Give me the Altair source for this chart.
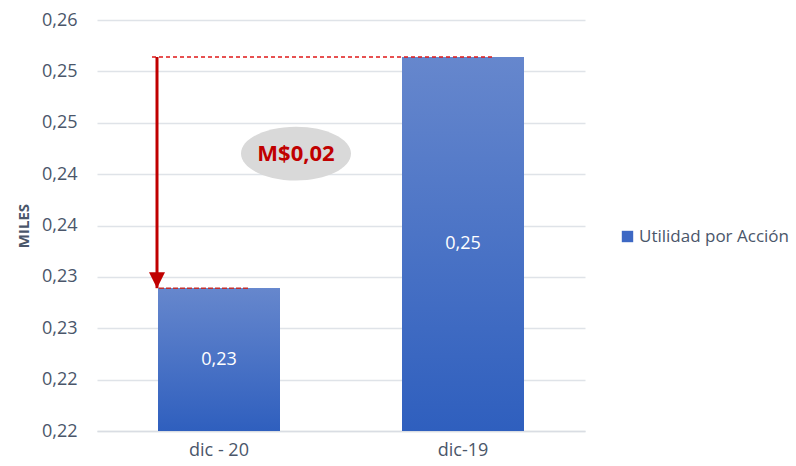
import altair as alt
import pandas as pd

# Earnings per share, December 2020 vs December 2019
periods = ["dic - 20", "dic-19"]
eps_values = [0.2314, 0.2539]
series_name = "Utilidad por Acción"
difference_label = "M$0,02"

# Y axis ticks and the labels shown for them
y_ticks = [0.2175, 0.2225, 0.2275, 0.2325, 0.2375, 0.2425, 0.2475, 0.2525, 0.2575]
y_tick_labels = ["0,22", "0,22", "0,23", "0,23", "0,24", "0,24", "0,25", "0,25", "0,26"]

y_min, y_max = y_ticks[0], y_ticks[-1]
FONT = "Open Sans"
TEXT_GREY = "#4a566a"
RED = "#c00000"

df = pd.DataFrame({"periodo": periods, "valor": eps_values, "serie": series_name})
df["base"] = y_min
df["medio"] = (df["valor"] + y_min) / 2
df["etiqueta"] = df["valor"].map(lambda v: f"{v:.2f}".replace(".", ","))

label_expr = (
    "[" + ",".join(f"'{t}'" for t in y_tick_labels) + "]"
    + f"[round((datum.value - {y_min}) / 0.005)]"
)

x_enc = alt.X(
    "periodo:N",
    sort=periods,
    scale=alt.Scale(paddingInner=0.5, paddingOuter=0.25),
    axis=alt.Axis(
        title=None, labelAngle=0, labelFont=FONT, labelFontSize=18,
        labelColor=TEXT_GREY, labelPadding=10, ticks=False, grid=False,
        domainColor="#d9dde3", domainWidth=1.5,
    ),
)
y_scale = alt.Scale(domain=[y_min, y_max], zero=False, nice=False)
y_enc = alt.Y(
    "valor:Q",
    scale=y_scale,
    axis=alt.Axis(
        title="MILES", titleFont=FONT, titleFontSize=15, titleFontWeight="bold",
        titleColor=TEXT_GREY, titlePadding=10,
        values=y_ticks, labelExpr=label_expr, labelFont=FONT, labelFontSize=18,
        labelColor=TEXT_GREY, labelPadding=20, ticks=False, domain=False,
        gridColor="#dfe3e8", gridWidth=1.5,
    ),
)

base = alt.Chart(df)

# Solid layer feeds the legend; gradient layer is drawn over it
legend_bars = base.mark_bar().encode(
    x=x_enc,
    y=y_enc,
    y2="base:Q",
    color=alt.Color(
        "serie:N",
        scale=alt.Scale(range=["#3d68c4"]),
        legend=alt.Legend(
            title=None, orient="none", legendX=522, legendY=208,
            labelFont=FONT, labelFontSize=17, labelColor=TEXT_GREY,
            symbolType="square", symbolSize=130, symbolStrokeWidth=0,
            labelOffset=3, padding=0,
        ),
    ),
)

gradient_bars = base.mark_bar(
    color=alt.Gradient(
        gradient="linear",
        stops=[
            alt.GradientStop(color="#6687cd", offset=0),
            alt.GradientStop(color="#2f5fbe", offset=1),
        ],
        x1=0, x2=0, y1=0, y2=1,
    )
).encode(x=x_enc, y="valor:Q", y2="base:Q")

bar_labels = base.mark_text(
    font=FONT, fontSize=18, color="white", baseline="middle"
).encode(x=x_enc, y=alt.Y("medio:Q"), text="etiqueta:N")

top_value = eps_values[1]
low_value = eps_values[0]

# Red dashed guide at the 2019 level
top_guide = alt.Chart(pd.DataFrame({"v": [top_value]})).mark_rule(
    color="#e01818", strokeDash=[4, 3], strokeWidth=1.4
).encode(y="v:Q", x=alt.value(55), x2=alt.value(396))

# Dashed mark on top of the 2020 bar
low_guide = alt.Chart(pd.DataFrame({"v": [low_value]})).mark_rule(
    color="#c03030", strokeDash=[5, 2], strokeWidth=1.5
).encode(y="v:Q", x=alt.value(62), x2=alt.value(153))

# Downward arrow between both levels
arrow_shaft = alt.Chart(pd.DataFrame({"a": [top_value], "b": [low_value]})).mark_rule(
    color=RED, strokeWidth=3
).encode(y="a:Q", y2="b:Q", x=alt.value(60))

arrow_head = alt.Chart(pd.DataFrame({"v": [low_value]})).mark_point(
    shape="M-1,-1L1,-1L0,1Z", size=256, filled=True, color=RED, opacity=1,
    yOffset=-8,
).encode(y="v:Q", x=alt.value(60))

# Grey ellipse holding the difference
bubble = alt.Chart(pd.DataFrame({"v": [0.2445]})).mark_point(
    shape="M-1,0A1,0.49,0,1,1,1,0A1,0.49,0,1,1,-1,0Z", size=12100,
    filled=True, color="#d9d9d9", opacity=1,
).encode(y="v:Q", x=alt.value(199))

bubble_text = alt.Chart(pd.DataFrame({"v": [0.2445], "t": [difference_label]})).mark_text(
    font=FONT, fontSize=22, fontWeight="bold", color=RED, baseline="middle"
).encode(y="v:Q", x=alt.value(199), text="t:N")

chart = alt.layer(
    legend_bars, gradient_bars, bar_labels, top_guide, low_guide,
    arrow_shaft, arrow_head, bubble, bubble_text,
).properties(
    width=488,
    height=411,
    background="white",
    autosize=alt.AutoSizeParams(type="none"),
    padding={"left": 97, "top": 20, "right": 211, "bottom": 35},
).configure_view(stroke=None, strokeWidth=0)

chart.save("out.html", embed_options={"renderer": "svg", "actions": False})
